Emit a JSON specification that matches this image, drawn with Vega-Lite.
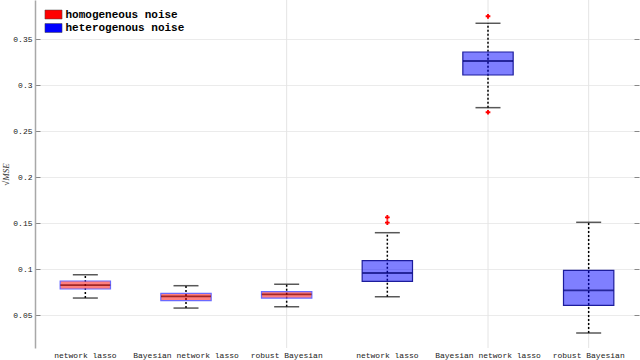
{
  "$schema": "https://vega.github.io/schema/vega-lite/v6.json",
  "width": 604,
  "height": 348,
  "autosize": {"type": "none"},
  "padding": {"left": 35, "top": 0, "right": 1, "bottom": 12},
  "background": "white",
  "config": {
    "view": {"stroke": null},
    "axis": {
      "labelFont": "Liberation Mono",
      "labelFontSize": 8,
      "labelColor": "#222",
      "titleFont": "Liberation Serif"
    }
  },
  "datasets": {
    "boxes": [
      {"key": "1", "group": "homogeneous noise", "lo": 0.0688, "q1": 0.0786, "med": 0.0829, "q3": 0.0873, "hi": 0.0941},
      {"key": "2", "group": "homogeneous noise", "lo": 0.0579, "q1": 0.0659, "med": 0.0707, "q3": 0.0739, "hi": 0.0822},
      {"key": "3", "group": "homogeneous noise", "lo": 0.0594, "q1": 0.0688, "med": 0.0728, "q3": 0.0757, "hi": 0.0837},
      {"key": "4", "group": "heterogenous noise", "lo": 0.0702, "q1": 0.087, "med": 0.096, "q3": 0.1094, "hi": 0.1398},
      {"key": "5", "group": "heterogenous noise", "lo": 0.2757, "q1": 0.3112, "med": 0.3264, "q3": 0.3362, "hi": 0.3674},
      {"key": "6", "group": "heterogenous noise", "lo": 0.0308, "q1": 0.0609, "med": 0.0772, "q3": 0.0989, "hi": 0.1511}
    ],
    "outliers": [
      {"key": "4", "value": 0.1565},
      {"key": "4", "value": 0.1507},
      {"key": "5", "value": 0.375},
      {"key": "5", "value": 0.2707}
    ],
    "grid": [{"key": "3"}, {"key": "5"}, {"key": "6"}]
  },
  "encoding": {
    "x": {
      "field": "key",
      "type": "nominal",
      "scale": {"type": "band", "domain": ["1", "2", "3", "4", "5", "6"], "paddingInner": 0, "paddingOuter": 0},
      "axis": {
        "title": null,
        "domain": false,
        "ticks": false,
        "grid": false,
        "labelAngle": 0,
        "labelPadding": 3,
        "labelExpr": "['network lasso','Bayesian network lasso','robust Bayesian','network lasso','Bayesian network lasso','robust Bayesian'][toNumber(datum.value)-1]"
      }
    }
  },
  "layer": [
    {
      "data": {"name": "grid"},
      "mark": {"type": "rule", "color": "#e4e4e4", "strokeWidth": 1}
    },
    {
      "data": {"name": "boxes"},
      "mark": {"type": "rule", "color": "#000", "strokeWidth": 1.5, "strokeDash": [2, 2]},
      "encoding": {
        "y": {"field": "lo", "type": "quantitative", "title": "√MSE", "scale": {"domain": [0.0145, 0.3927], "nice": false, "zero": false}, "axis": null},
        "y2": {"field": "hi"}
      }
    },
    {
      "data": {"name": "boxes"},
      "mark": {"type": "bar", "width": {"band": 0.5}, "fillOpacity": 0.5, "strokeWidth": 1.2},
      "encoding": {
        "y": {
          "field": "q1", "type": "quantitative", "title": "√MSE",
          "scale": {"domain": [0.0145, 0.3927], "nice": false, "zero": false},
          "axis": {
            "values": [0.05, 0.1, 0.15, 0.2, 0.25, 0.3, 0.35],
            "format": ".2~f",
            "grid": true,
            "gridColor": "#ebebeb",
            "domainColor": "#a8a8a8",
            "domainWidth": 1.5,
            "tickColor": "#888",
            "tickSize": -5,
            "labelPadding": 8,
            "titleFontStyle": "italic",
            "titleFontWeight": "normal",
            "titleFontSize": 9,
            "titleColor": "#333",
            "titlePadding": 2
          }
        },
        "y2": {"field": "q3"},
        "color": {
          "field": "group",
          "type": "nominal",
          "scale": {"domain": ["homogeneous noise", "heterogenous noise"], "range": ["#ff0000", "#0000ff"]},
          "legend": {
            "title": null,
            "orient": "none",
            "legendX": 13,
            "legendY": 9,
            "padding": 0,
            "labelFont": "Liberation Mono",
            "labelFontWeight": "bold",
            "labelFontSize": 11,
            "labelColor": "#000",
            "labelOffset": 6.5,
            "symbolType": "M-1.9,-1H1.9V1H-1.9Z",
            "symbolSize": 81,
            "symbolOpacity": 1,
            "symbolStrokeColor": "#444",
            "symbolStrokeWidth": 0.5,
            "rowPadding": 1.5
          }
        },
        "stroke": {
          "condition": {"test": "datum.group === 'homogeneous noise'", "value": "#6a6aff"},
          "value": "#1c1c9c"
        }
      }
    },
    {
      "data": {"name": "boxes"},
      "mark": {"type": "tick", "size": 50, "thickness": 1.8, "orient": "horizontal"},
      "encoding": {
        "y": {"field": "med", "type": "quantitative", "title": "√MSE", "axis": null},
        "fill": {
          "condition": {"test": "datum.group === 'homogeneous noise'", "value": "#7a0000"},
          "value": "#000070"
        }
      }
    },
    {
      "data": {"name": "boxes"},
      "mark": {"type": "tick", "size": 25, "thickness": 1.5, "orient": "horizontal", "color": "#111"},
      "encoding": {
        "y": {"field": "lo", "type": "quantitative", "title": "√MSE", "axis": null}
      }
    },
    {
      "data": {"name": "boxes"},
      "mark": {"type": "tick", "size": 25, "thickness": 1.5, "orient": "horizontal", "color": "#111"},
      "encoding": {
        "y": {"field": "hi", "type": "quantitative", "title": "√MSE", "axis": null}
      }
    },
    {
      "data": {"name": "outliers"},
      "mark": {"type": "point", "shape": "cross", "filled": true, "color": "#ff0000", "size": 22, "opacity": 1},
      "encoding": {
        "y": {"field": "value", "type": "quantitative", "title": "√MSE", "axis": null}
      }
    },
    {
      "data": {"name": "boxes"},
      "mark": {"type": "tick", "opacity": 0, "orient": "horizontal"},
      "encoding": {
        "y": {
          "field": "med", "type": "quantitative", "title": "√MSE",
          "axis": {
            "orient": "right",
            "values": [0.05, 0.1, 0.15, 0.2, 0.25, 0.3, 0.35],
            "labels": false,
            "title": null,
            "grid": false,
            "domain": false,
            "tickColor": "#888",
            "tickSize": -5
          }
        }
      }
    }
  ],
  "resolve": {"axis": {"y": "independent"}}
}
